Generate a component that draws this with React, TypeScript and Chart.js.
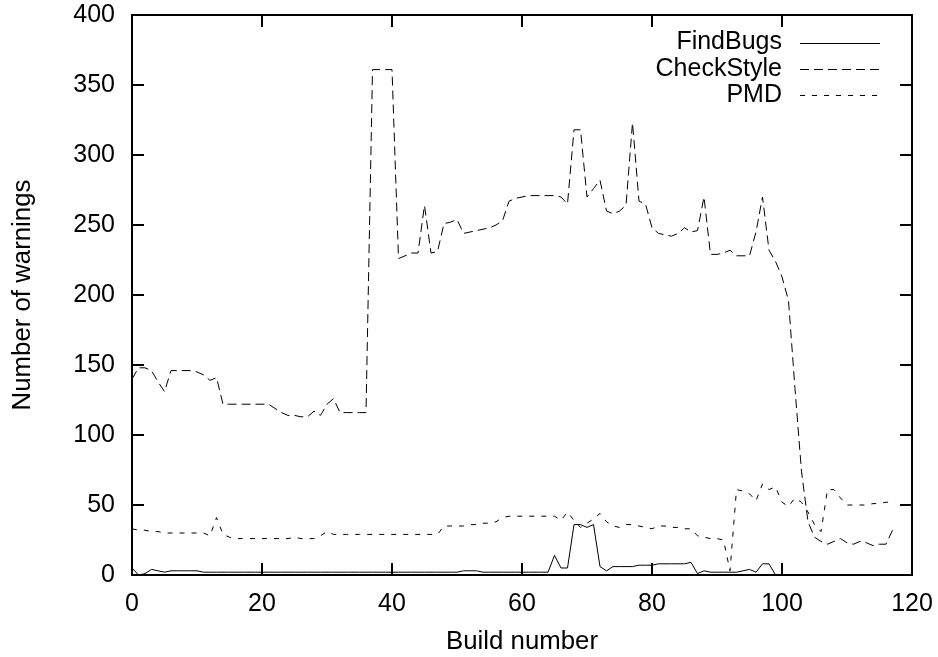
import React, { useEffect, useRef } from "react";
import { Chart, registerables } from "chart.js";

Chart.register(...registerables);

// Build numbers (x categories) 0..117
const builds: number[] = Array.from({ length: 118 }, (_, i) => i);

const findBugs: number[] = [
  5, 0, 1, 4, 3, 2, 3, 3, 3, 3,
  3, 2, 2, 2, 2, 2, 2, 2, 2, 2,
  2, 2, 2, 2, 2, 2, 2, 2, 2, 2,
  2, 2, 2, 2, 2, 2, 2, 2, 2, 2,
  2, 2, 2, 2, 2, 2, 2, 2, 2, 2,
  2, 3, 3, 3, 2, 2, 2, 2, 2, 2,
  2, 2, 2, 2, 2, 14, 5, 5, 36, 36,
  34, 36, 6, 3, 6, 6, 6, 6, 7, 7,
  7, 8, 8, 8, 8, 8, 9, 1, 3, 2,
  2, 2, 2, 2, 3, 4, 2, 8, 8, 0,
  0, 0, 0, 0, 0, 0, 0, 0, 0, 0,
  0, 0, 0, 0, 0, 0, 0, 0,
];

const checkStyle: number[] = [
  140, 148, 148, 146, 138, 131, 146, 146, 146, 146,
  145, 143, 139, 141, 122, 122, 122, 122, 122, 122,
  122, 122, 119, 116, 114, 114, 113, 113, 117, 114,
  122, 126, 116, 116, 116, 116, 116, 361, 361, 361,
  361, 226, 228, 230, 230, 264, 230, 231, 251, 252,
  254, 244, 245, 246, 247, 248, 250, 253, 267, 269,
  270, 271, 271, 271, 271, 271, 270, 265, 318, 318,
  270, 276, 282, 260, 258, 260, 264, 323, 267, 265,
  248, 244, 243, 242, 244, 248, 245, 246, 270, 229,
  229, 230, 232, 228, 228, 228, 245, 270, 232, 224,
  213, 196, 133, 74, 38, 27, 24, 22, 24, 26,
  23, 22, 24, 23, 21, 22, 22, 32,
];

const pmd: number[] = [
  33, 32, 32, 31, 31, 30, 30, 30, 30, 30,
  30, 30, 28, 41, 29, 27, 26, 26, 26, 26,
  26, 26, 26, 26, 26, 27, 26, 26, 26, 28,
  31, 29, 29, 29, 29, 29, 29, 29, 29, 29,
  29, 29, 29, 29, 29, 29, 29, 29, 35, 35,
  35, 35, 36, 36, 37, 37, 38, 41, 42, 42,
  42, 42, 42, 42, 42, 42, 39, 45, 39, 34,
  37, 40, 44, 38, 35, 34, 36, 36, 35, 34,
  33, 35, 35, 34, 34, 33, 33, 28, 27, 26,
  26, 25, 3, 61, 60, 58, 53, 65, 61, 63,
  52, 49, 55, 52, 45, 36, 31, 61, 61, 55,
  50, 50, 50, 50, 51, 51, 52, 52,
];

const seriesNames = ["FindBugs", "CheckStyle", "PMD"];
const xTickValues = [0, 20, 40, 60, 80, 100, 120];
const yTickValues = [0, 50, 100, 150, 200, 250, 300, 350, 400];
const xTitle = "Build number";
const yTitle = "Number of warnings";

const FONT = '"Liberation Sans", Arial, Helvetica, sans-serif';
const FS = 25;
const TFS = 25.8;

const framePlugin = {
  id: "gnuplotFrame",
  afterDatasetsDraw(chart: any) {
    const { ctx, chartArea, scales } = chart;
    const { left, right, top, bottom } = chartArea;
    const xs = scales.x;
    const ys = scales.y;
    ctx.save();
    ctx.strokeStyle = "#000";
    ctx.lineWidth = 2;
    ctx.setLineDash([]);
    ctx.strokeRect(left, top, right - left, bottom - top);
    const tl = 12;
    ctx.beginPath();
    xs.ticks.forEach((t: any) => {
      const px = Math.round(xs.getPixelForValue(t.value));
      ctx.moveTo(px, bottom);
      ctx.lineTo(px, bottom - tl);
      ctx.moveTo(px, top);
      ctx.lineTo(px, top + tl);
    });
    ys.ticks.forEach((t: any) => {
      const py = Math.round(ys.getPixelForValue(t.value));
      ctx.moveTo(left, py);
      ctx.lineTo(left + tl, py);
      ctx.moveTo(right, py);
      ctx.lineTo(right - tl, py);
    });
    ctx.stroke();

    // key (legend) in the upper right, gnuplot style
    ctx.font = `${FS}px ${FONT}`;
    ctx.fillStyle = "#000";
    ctx.textAlign = "right";
    ctx.textBaseline = "middle";
    chart.data.datasets.forEach((ds: any, i: number) => {
      const cy = top + 27.5 + i * 26.4;
      ctx.fillText(ds.label, right - 130, cy);
      ctx.beginPath();
      ctx.lineWidth = ds.borderWidth;
      ctx.strokeStyle = ds.borderColor;
      ctx.setLineDash(ds.borderDash || []);
      ctx.moveTo(right - 112, Math.round(cy) + 0.5);
      ctx.lineTo(right - 32, Math.round(cy) + 0.5);
      ctx.stroke();
    });
    ctx.restore();
  },
};

export default function App() {
  const canvasRef = useRef<HTMLCanvasElement | null>(null);

  useEffect(() => {
    const canvas = canvasRef.current;
    if (!canvas) return;
    const toPts = (vals: number[]) => vals.map((v, i) => ({ x: builds[i], y: v }));
    const chart = new Chart(canvas, {
      type: "line",
      data: {
        datasets: [
          {
            label: seriesNames[0],
            data: toPts(findBugs),
            borderColor: "#000",
            borderWidth: 1,
            borderDash: [],
            pointRadius: 0,
            tension: 0,
            fill: false,
          },
          {
            label: seriesNames[1],
            data: toPts(checkStyle),
            borderColor: "#000",
            borderWidth: 1,
            borderDash: [9, 5],
            pointRadius: 0,
            tension: 0,
            fill: false,
          },
          {
            label: seriesNames[2],
            data: toPts(pmd),
            borderColor: "#000",
            borderWidth: 1,
            borderDash: [5, 7],
            pointRadius: 0,
            tension: 0,
            fill: false,
          },
        ],
      },
      options: {
        animation: false,
        responsive: true,
        maintainAspectRatio: false,
        layout: { padding: { left: 0, right: 26, top: 15, bottom: 0 } },
        plugins: {
          legend: { display: false },
          tooltip: { enabled: false },
        },
        scales: {
          x: {
            type: "linear",
            min: 0,
            max: 120,
            afterBuildTicks: (scale: any) => {
              scale.ticks = xTickValues.map((v) => ({ value: v }));
            },
            afterFit: (scale: any) => {
              scale.height = 82;
              scale.paddingLeft = 0;
              scale.paddingRight = 0;
            },
            grid: { display: false, drawTicks: false },
            border: { display: false },
            ticks: {
              color: "#000",
              font: { family: FONT, size: FS },
              padding: 14,
              maxRotation: 0,
              autoSkip: false,
            },
            title: {
              display: true,
              text: xTitle,
              color: "#000",
              font: { family: FONT, size: TFS },
              padding: { top: 0, bottom: 0 },
            },
          },
          y: {
            type: "linear",
            min: 0,
            max: 400,
            afterBuildTicks: (scale: any) => {
              scale.ticks = yTickValues.map((v) => ({ value: v }));
            },
            afterFit: (scale: any) => {
              scale.width = 132;
              scale.paddingTop = 0;
              scale.paddingBottom = 0;
            },
            grid: { display: false, drawTicks: false },
            border: { display: false },
            ticks: {
              color: "#000",
              font: { family: FONT, size: FS },
              padding: 17,
              autoSkip: false,
            },
            title: {
              display: true,
              text: yTitle,
              color: "#000",
              font: { family: FONT, size: TFS },
              padding: { top: 7, bottom: 0 },
            },
          },
        },
      },
      plugins: [framePlugin],
    });
    return () => chart.destroy();
  }, []);

  return (
    <div
      style={{
        position: "fixed",
        left: 0,
        top: 0,
        width: 938,
        height: 657,
        background: "#fff",
      }}
    >
      <canvas ref={canvasRef} />
    </div>
  );
}
